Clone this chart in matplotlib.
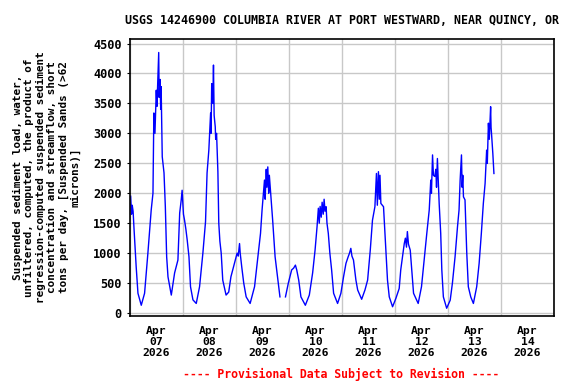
import numpy as np
import matplotlib
matplotlib.use("Agg")
import matplotlib.pyplot as plt

# hours since Apr 07 2026 00:00
hours = [0.3, 0.7, 1.0, 1.4, 1.8, 2.8, 3.6, 5.1, 6.6, 8.1, 9.6, 10.4, 10.8, 11.3, 11.9,
         12.2, 12.7, 13.0, 13.2, 13.6, 13.9, 14.1, 14.6, 15.4, 16.0, 16.6, 17.2, 18.7,
         20.2, 21.7, 22.5, 23.2, 23.6, 24.2, 24.7, 25.3, 25.9, 26.7, 27.4, 28.5, 30.0,
         31.5, 33.0, 34.2, 34.9, 35.7, 36.5, 36.7, 37.0, 37.5, 37.8, 38.1, 38.6, 38.8,
         39.2, 39.8, 40.2, 40.7, 41.3, 42.0, 43.5, 44.7, 45.7, 47.3, 48.5, 49.0, 49.6,
         49.9, 50.6, 51.5, 52.6, 54.4, 56.4, 57.9, 59.1, 59.8, 60.9, 61.2, 61.7, 62.0,
         62.4, 62.8, 63.1, 63.6, 64.6, 65.7, 66.6, 67.3, 67.9, 68.5, 70.4, 71.7, 73.2,
         74.1, 74.9, 75.5, 76.4, 77.4, 79.4, 81.2, 82.7, 83.8, 84.7, 85.3, 85.7, 86.1,
         86.6, 87.0, 87.5, 87.9, 88.3, 88.8, 89.2, 89.8, 90.5, 91.3, 92.2, 94.0, 95.5,
         96.7, 97.8, 98.8, 99.4, 100.0, 100.5, 101.2, 102.3, 103.1, 104.9, 106.4, 107.6,
         108.8, 109.8, 110.9, 111.6, 112.0, 112.5, 112.9, 113.2, 113.6, 114.8, 115.6,
         116.6, 117.4, 118.9, 120.4, 121.9, 122.6, 123.4, 124.2, 124.7, 125.2, 125.6,
         126.1, 126.9, 127.6, 128.4, 130.5, 132.0, 133.5, 134.4, 135.5, 136.2, 136.5,
         137.0, 137.4, 138.0, 138.5, 138.8, 139.2, 140.0, 140.7, 141.2, 141.9, 143.4,
         145.0, 146.0, 147.2, 148.3, 149.0, 149.5, 150.1, 150.4, 150.7, 151.0, 151.7,
         152.5, 153.2, 154.3, 155.5, 157.0, 158.1, 159.1, 160.0, 160.8, 161.5, 161.8,
         162.3, 162.7, 163.3, 163.5, 163.7, 164.3, 164.8]

load = [1950, 1650, 1800, 1700, 1420, 770, 330, 130, 330, 1000, 1720, 2000, 3340, 3000, 3720,
        3450, 4000, 4350, 3600, 3900, 3400, 3780, 2610, 2340, 1775, 940, 605, 300,
        670, 885, 1670, 1890, 2050, 1650, 1550, 1400, 1220, 940, 440, 220, 160,
        440, 1000, 1525, 2340, 2720, 3340, 3000, 3830, 3500, 4140, 3300, 3110, 2900,
        3000, 2360, 1500, 1200, 1000, 550, 300, 350, 605, 830, 1000, 950, 1160,
        1000, 770, 500, 270, 160, 440, 940, 1330, 1720, 2220, 1900, 2400, 2100,
        2440, 2000, 2300, 2050, 1550, 940, 660, 440, 270, np.nan, 270, 500, 720,
        750, 800, 720, 550, 270, 130, 300, 670, 1050, 1440, 1750, 1500, 1780,
        1600, 1850, 1650, 1900, 1700, 1775, 1500, 1330, 1000, 720, 330, 160, 330,
        605, 830, 940, 1000, 1080, 950, 885, 550, 385, 230, 385, 550,
        1050, 1550, 1775, 2330, 1800, 2360, 1900, 2300, 1830, 1775, 1220,
        550, 270, 105, 245, 410, 720, 940, 1160, 1250, 1100, 1360,
        1150, 1050, 720, 330, 160, 440, 1000, 1330, 1720, 2220, 2000,
        2640, 2300, 2280, 2400, 2100, 2580, 1830, 1330, 720, 270, 80,
        215, 500, 940, 1440, 1720, 2220, 2640, 2100, 2300, 1940, 1890,
        1000, 440, 270, 160, 440, 830, 1330, 1830, 2165, 2720, 2500,
        3170, 2900, 3445, 3100, 3000, 2665, 2330]

day_labels = ["Apr\n07\n2026", "Apr\n08\n2026", "Apr\n09\n2026", "Apr\n10\n2026",
              "Apr\n11\n2026", "Apr\n12\n2026", "Apr\n13\n2026", "Apr\n14\n2026"]
y_ticks = [0, 500, 1000, 1500, 2000, 2500, 3000, 3500, 4000, 4500]

mono = "DejaVu Sans Mono"
fig = plt.figure(figsize=(5.76, 3.84), dpi=100)
ax = fig.add_axes([0.2257, 0.177, 0.7361, 0.7214])

ax.plot(hours, load, color="#0000ff", linewidth=1.0)

ax.set_xlim(0, 24 * len(day_labels))
ax.set_ylim(-50, 4575)
ax.set_xticks(np.arange(0, 24 * len(day_labels) + 1, 24))
ax.set_xticklabels([])
ax.set_xticks(np.arange(12, 24 * len(day_labels), 24), minor=True)
ax.set_xticklabels(day_labels, minor=True, fontfamily=mono, fontweight="bold",
                   fontsize=8.2, linespacing=1.15)
ax.tick_params(axis="x", which="both", length=0, pad=7)
ax.set_yticks(y_ticks)
ax.set_yticklabels([str(v) for v in y_ticks], fontfamily=mono, fontweight="bold", fontsize=8.6)
ax.tick_params(axis="y", length=2, pad=4)
ax.grid(True, which="major", color="#c8c8c8", linewidth=1.0)
for s in ax.spines.values():
    s.set_color("black")
    s.set_linewidth(1.2)

ax.set_title("USGS 14246900 COLUMBIA RIVER AT PORT WESTWARD, NEAR QUINCY, OR",
             fontfamily=mono, fontweight="bold", fontsize=8.4, pad=11)
ax.set_ylabel("Suspended sediment load, water,\nunfiltered, computed, the product of\n"
              "regression-computed suspended sediment\nconcentration and streamflow, short\n"
              "tons per day, [Suspended Sands (>62\nmicrons)]",
              fontfamily=mono, fontweight="bold", fontsize=7.9, linespacing=1.18, labelpad=9)
fig.text(0.592, 0.016, "---- Provisional Data Subject to Revision ----", color="red",
         fontfamily=mono, fontweight="bold", fontsize=8.3, ha="center")

fig.savefig("out.png", dpi=100)
